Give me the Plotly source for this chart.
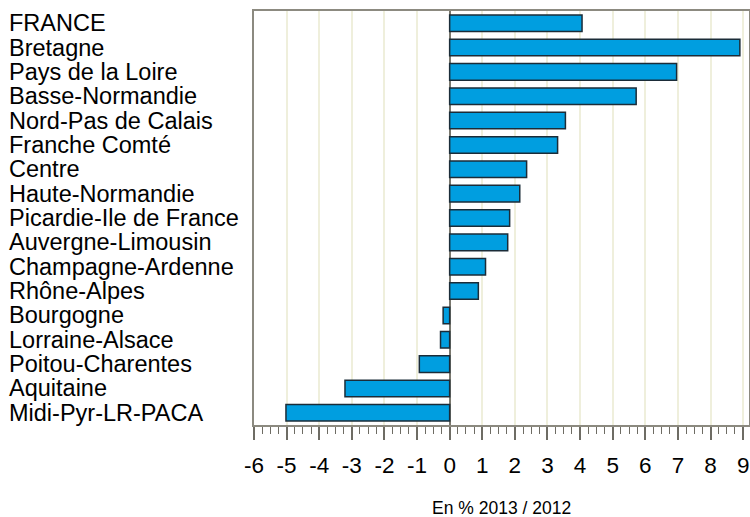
import plotly.graph_objects as go

regions = ["FRANCE", "Bretagne", "Pays de la Loire", "Basse-Normandie",
           "Nord-Pas de Calais", "Franche Comté", "Centre", "Haute-Normandie",
           "Picardie-Ile de France", "Auvergne-Limousin", "Champagne-Ardenne",
           "Rhône-Alpes", "Bourgogne", "Lorraine-Alsace", "Poitou-Charentes",
           "Aquitaine", "Midi-Pyr-LR-PACA"]
values = [4.06, 8.9, 6.96, 5.72, 3.55, 3.31, 2.36, 2.15, 1.84, 1.78, 1.10,
          0.88, -0.20, -0.28, -0.93, -3.21, -5.02]
x_ticks = list(range(-6, 10))
x_title = "En % 2013 / 2012"

FONT = "Liberation Sans, Arial, sans-serif"
FRAME = "#8c8a80"

fig = go.Figure()
fig.add_trace(go.Bar(
    y=regions, x=values, orientation="h",
    marker=dict(color="#009ee0", line=dict(color="#1b2c38", width=1.5)),
    hoverinfo="skip",
))

for r in regions:
    fig.add_annotation(text=r, x=-0.498, xref="paper", y=r, yref="y",
                       xanchor="left", yanchor="middle", showarrow=False,
                       font=dict(family=FONT, size=23.5, color="black"))

fig.add_annotation(text=x_title, x=0.5, xref="paper", y=-0.2, yref="paper",
                   xanchor="center", yanchor="middle", showarrow=False,
                   borderpad=0,
                   font=dict(family=FONT, size=17.5, color="black"))

fig.update_layout(
    width=750, height=517,
    margin=dict(l=254, r=1, t=11, b=92),
    paper_bgcolor="white", plot_bgcolor="white",
    bargap=0.32, showlegend=False,
    font=dict(family=FONT, color="black"),
)
fig.update_xaxes(
    automargin=False,
    range=[-6, 9.18], tickmode="array", tickvals=x_ticks,
    ticktext=[str(t) for t in x_ticks],
    tickfont=dict(family=FONT, size=22.5, color="black"),
    ticks="outside", ticklen=13, tickwidth=1.5, tickcolor="#6e6c64",
    ticklabelstandoff=6,
    minor=dict(dtick=0.25, tick0=0, ticks="outside", ticklen=7,
               tickwidth=1.2, tickcolor="#6e6c64", showgrid=False),
    showgrid=True, gridcolor="#efefdc", gridwidth=1.5,
    zeroline=True, zerolinecolor="#7a786e", zerolinewidth=1.5,
    showline=True, linecolor=FRAME, linewidth=1.5, mirror=True,
)
fig.update_yaxes(
    automargin=False,
    categoryorder="array", categoryarray=regions[::-1],
    range=[-0.5, len(regions) - 0.5],
    showticklabels=False, ticks="", showgrid=False, zeroline=False,
    showline=True, linecolor=FRAME, linewidth=1.5, mirror=True,
)

fig.write_html(
    "out.html",
    config={"displayModeBar": False},
    post_script="document.body.style.margin='0';document.body.style.overflow='hidden';",
)
